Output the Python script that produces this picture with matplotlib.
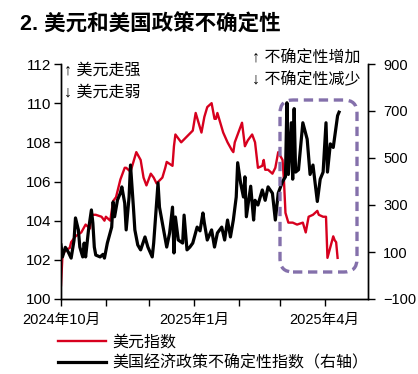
import matplotlib
matplotlib.use('Agg')
import matplotlib.pyplot as plt
import pandas as pd
from matplotlib.patches import FancyBboxPatch
from matplotlib.transforms import IdentityTransform

plt.rcParams['font.family'] = ['Liberation Sans', 'Noto Sans CJK SC', 'DejaVu Sans']

title = '2. 美元和美国政策不确定性'
dxy_label = '美元指数'
epu_label = '美国经济政策不确定性指数（右轴）'

dxy_dates = ['2024-10-01', '2024-10-02', '2024-10-04', '2024-10-07', '2024-10-08', '2024-10-11',
             '2024-10-15', '2024-10-18', '2024-10-21', '2024-10-22', '2024-10-25', '2024-10-29',
             '2024-10-31', '2024-11-01', '2024-11-04', '2024-11-06', '2024-11-08', '2024-11-11',
             '2024-11-14', '2024-11-15', '2024-11-18', '2024-11-22', '2024-11-25', '2024-11-27',
             '2024-11-29', '2024-12-02', '2024-12-04', '2024-12-06', '2024-12-10', '2024-12-12',
             '2024-12-13', '2024-12-17', '2024-12-18', '2024-12-19', '2024-12-23', '2024-12-27',
             '2024-12-31', '2025-01-02', '2025-01-06', '2025-01-08', '2025-01-10', '2025-01-13',
             '2025-01-15', '2025-01-16', '2025-01-17', '2025-01-21', '2025-01-24', '2025-01-27',
             '2025-01-28', '2025-01-29', '2025-01-31', '2025-02-03', '2025-02-05', '2025-02-07',
             '2025-02-10', '2025-02-12', '2025-02-14', '2025-02-17', '2025-02-18', '2025-02-19',
             '2025-02-21', '2025-02-24', '2025-02-26', '2025-02-28', '2025-03-03', '2025-03-04',
             '2025-03-05', '2025-03-07', '2025-03-10', '2025-03-13', '2025-03-17', '2025-03-19',
             '2025-03-21', '2025-03-24', '2025-03-27', '2025-03-28', '2025-03-31', '2025-04-02',
             '2025-04-03', '2025-04-07', '2025-04-08', '2025-04-09', '2025-04-10']
dxy_values = [100.7, 102.2, 102.5, 102.6, 102.9, 103.2,
              103.4, 103.8, 103.6, 104.3, 104.3, 104.2,
              104.0, 104.2, 104.0, 105.0, 105.2, 106.1,
              106.7, 106.7, 106.5, 107.5, 107.1, 106.2,
              105.8, 106.4, 106.2, 105.9, 106.2, 106.7,
              107.0, 106.8, 107.8, 108.4, 108.0, 108.3,
              108.6, 109.5, 108.5, 109.3, 109.8, 110.0,
              109.2, 109.2, 109.5, 108.5, 108.0, 107.6,
              107.5, 108.0, 108.4, 109.0, 107.8, 108.1,
              108.4, 108.0, 106.7, 106.8, 107.1, 106.6,
              106.6, 106.4, 106.7, 107.5, 107.1, 106.0,
              104.4, 103.9, 103.9, 103.8, 103.9, 103.4,
              104.2, 104.3, 104.5, 104.3, 104.2, 104.2,
              102.1, 103.2, 103.0, 102.9, 102.1]

epu_dates = ['2024-10-01', '2024-10-02', '2024-10-04', '2024-10-06', '2024-10-08', '2024-10-10',
             '2024-10-11', '2024-10-13', '2024-10-14', '2024-10-16', '2024-10-17', '2024-10-18',
             '2024-10-20', '2024-10-22', '2024-10-23', '2024-10-24', '2024-10-25', '2024-10-28',
             '2024-10-30', '2024-10-31', '2024-11-02', '2024-11-05', '2024-11-06', '2024-11-07',
             '2024-11-09', '2024-11-11', '2024-11-12', '2024-11-14', '2024-11-15', '2024-11-17',
             '2024-11-18', '2024-11-20', '2024-11-21', '2024-11-23', '2024-11-25', '2024-11-28',
             '2024-11-30', '2024-12-03', '2024-12-04', '2024-12-07', '2024-12-08', '2024-12-10',
             '2024-12-13', '2024-12-15', '2024-12-17', '2024-12-18', '2024-12-19', '2024-12-21',
             '2024-12-24', '2024-12-25', '2024-12-27', '2024-12-29', '2024-12-31', '2025-01-03',
             '2025-01-05', '2025-01-07', '2025-01-08', '2025-01-10', '2025-01-13', '2025-01-15',
             '2025-01-17', '2025-01-20', '2025-01-22', '2025-01-24', '2025-01-26', '2025-01-28',
             '2025-01-30', '2025-01-31', '2025-02-02', '2025-02-04', '2025-02-05', '2025-02-06',
             '2025-02-09', '2025-02-11', '2025-02-12', '2025-02-14', '2025-02-17', '2025-02-19',
             '2025-02-21', '2025-02-24', '2025-02-26', '2025-02-28', '2025-03-03', '2025-03-05',
             '2025-03-06', '2025-03-07', '2025-03-09', '2025-03-10', '2025-03-11', '2025-03-12',
             '2025-03-14', '2025-03-17', '2025-03-20', '2025-03-22', '2025-03-24', '2025-03-27',
             '2025-03-29', '2025-03-31', '2025-04-02', '2025-04-03', '2025-04-05', '2025-04-07',
             '2025-04-10', '2025-04-11']
epu_values = [130, 79, 120, 100, 74, 150,
              245, 194, 121, 79, 138, 79,
              194, 279, 223, 121, 87, 79,
              90, 74, 138, 206, 313, 250,
              321, 351, 377, 308, 194, 334,
              470, 291, 194, 130, 109, 164,
              121, 79, 138, 394, 291, 223,
              121, 181, 291, 96, 249, 151,
              138, 257, 109, 121, 138, 206,
              190, 266, 223, 151, 194, 121,
              181, 206, 151, 236, 164, 236,
              334, 480, 394, 334, 420, 250,
              380, 236, 320, 300, 364, 320,
              377, 350, 236, 350, 400, 420,
              735, 430, 650, 410, 710, 440,
              450, 650, 580, 430, 470, 315,
              410, 440, 650, 440, 560, 545,
              680, 695]

left_ticks = [100, 102, 104, 106, 108, 110, 112]
right_ticks = [-100, 100, 300, 500, 700, 900]
x_tick_dates = ['2024-10-01', '2024-11-01', '2024-12-01', '2025-01-01',
                '2025-02-01', '2025-03-01', '2025-04-01']
x_tick_labels = ['2024年10月', '', '', '2025年1月', '', '', '2025年4月']
x_range = ['2024-10-01', '2025-05-01']

W, H = 418, 374
fig = plt.figure(figsize=(W / 100, H / 100), dpi=100)
ax = fig.add_axes([61 / W, 1 - 299 / H, (368 - 61) / W, (299 - 64) / H])

red_line, = ax.plot(pd.to_datetime(dxy_dates), dxy_values, color='#d7001e', lw=1.7,
                    label=dxy_label, zorder=2)
ax2 = ax.twinx()
blk_line, = ax2.plot(pd.to_datetime(epu_dates), epu_values, color='black', lw=2.3,
                     label=epu_label, zorder=3)

ax.set_xlim(pd.Timestamp(x_range[0]), pd.Timestamp(x_range[1]))
ax.set_ylim(left_ticks[0], left_ticks[-1])
ax2.set_ylim(right_ticks[0], right_ticks[-1])
ax.set_yticks(left_ticks)
ax2.set_yticks(right_ticks)
ax.set_xticks(pd.to_datetime(x_tick_dates))
ax.set_xticklabels(x_tick_labels)

for a in (ax, ax2):
    a.spines['top'].set_visible(False)
    for s in a.spines.values():
        s.set_linewidth(1.0)
        s.set_color('black')

ax.tick_params(axis='y', direction='out', length=5, width=1, labelsize=11, pad=2)
ax.tick_params(axis='x', direction='out', length=5, width=1, labelsize=10.5, pad=5)
ax2.tick_params(axis='y', direction='out', length=5, width=1, labelsize=10.5, pad=6)

fig.text(20 / W, 1 - 25 / H, title, fontsize=15.5, fontweight='bold', va='center', ha='left')

fig.text(64 / W, 1 - 70 / H, '↑ 美元走强', fontsize=11.5, va='center', ha='left')
fig.text(64 / W, 1 - 92 / H, '↓ 美元走弱', fontsize=11.5, va='center', ha='left')
fig.text(252 / W, 1 - 58 / H, '↑ 不确定性增加', fontsize=11.5, va='center', ha='left')
fig.text(252 / W, 1 - 80 / H, '↓ 不确定性减少', fontsize=11.5, va='center', ha='left')

box = FancyBboxPatch((280, H - 272), 77, 172,
                     boxstyle='round,pad=0,rounding_size=13',
                     transform=IdentityTransform(), fill=False,
                     ec='#8470ab', lw=2.4, ls=(0, (2.8, 1.7)), zorder=5)
fig.add_artist(box)

fig.legend(handles=[red_line, blk_line], loc='upper left',
           bbox_to_anchor=(58 / W, 1 - 335 / H), frameon=False,
           fontsize=11.5, handlelength=3.0, handletextpad=0.4,
           labelspacing=0.3, borderpad=0, borderaxespad=0)

fig.savefig('out.png', dpi=100)
